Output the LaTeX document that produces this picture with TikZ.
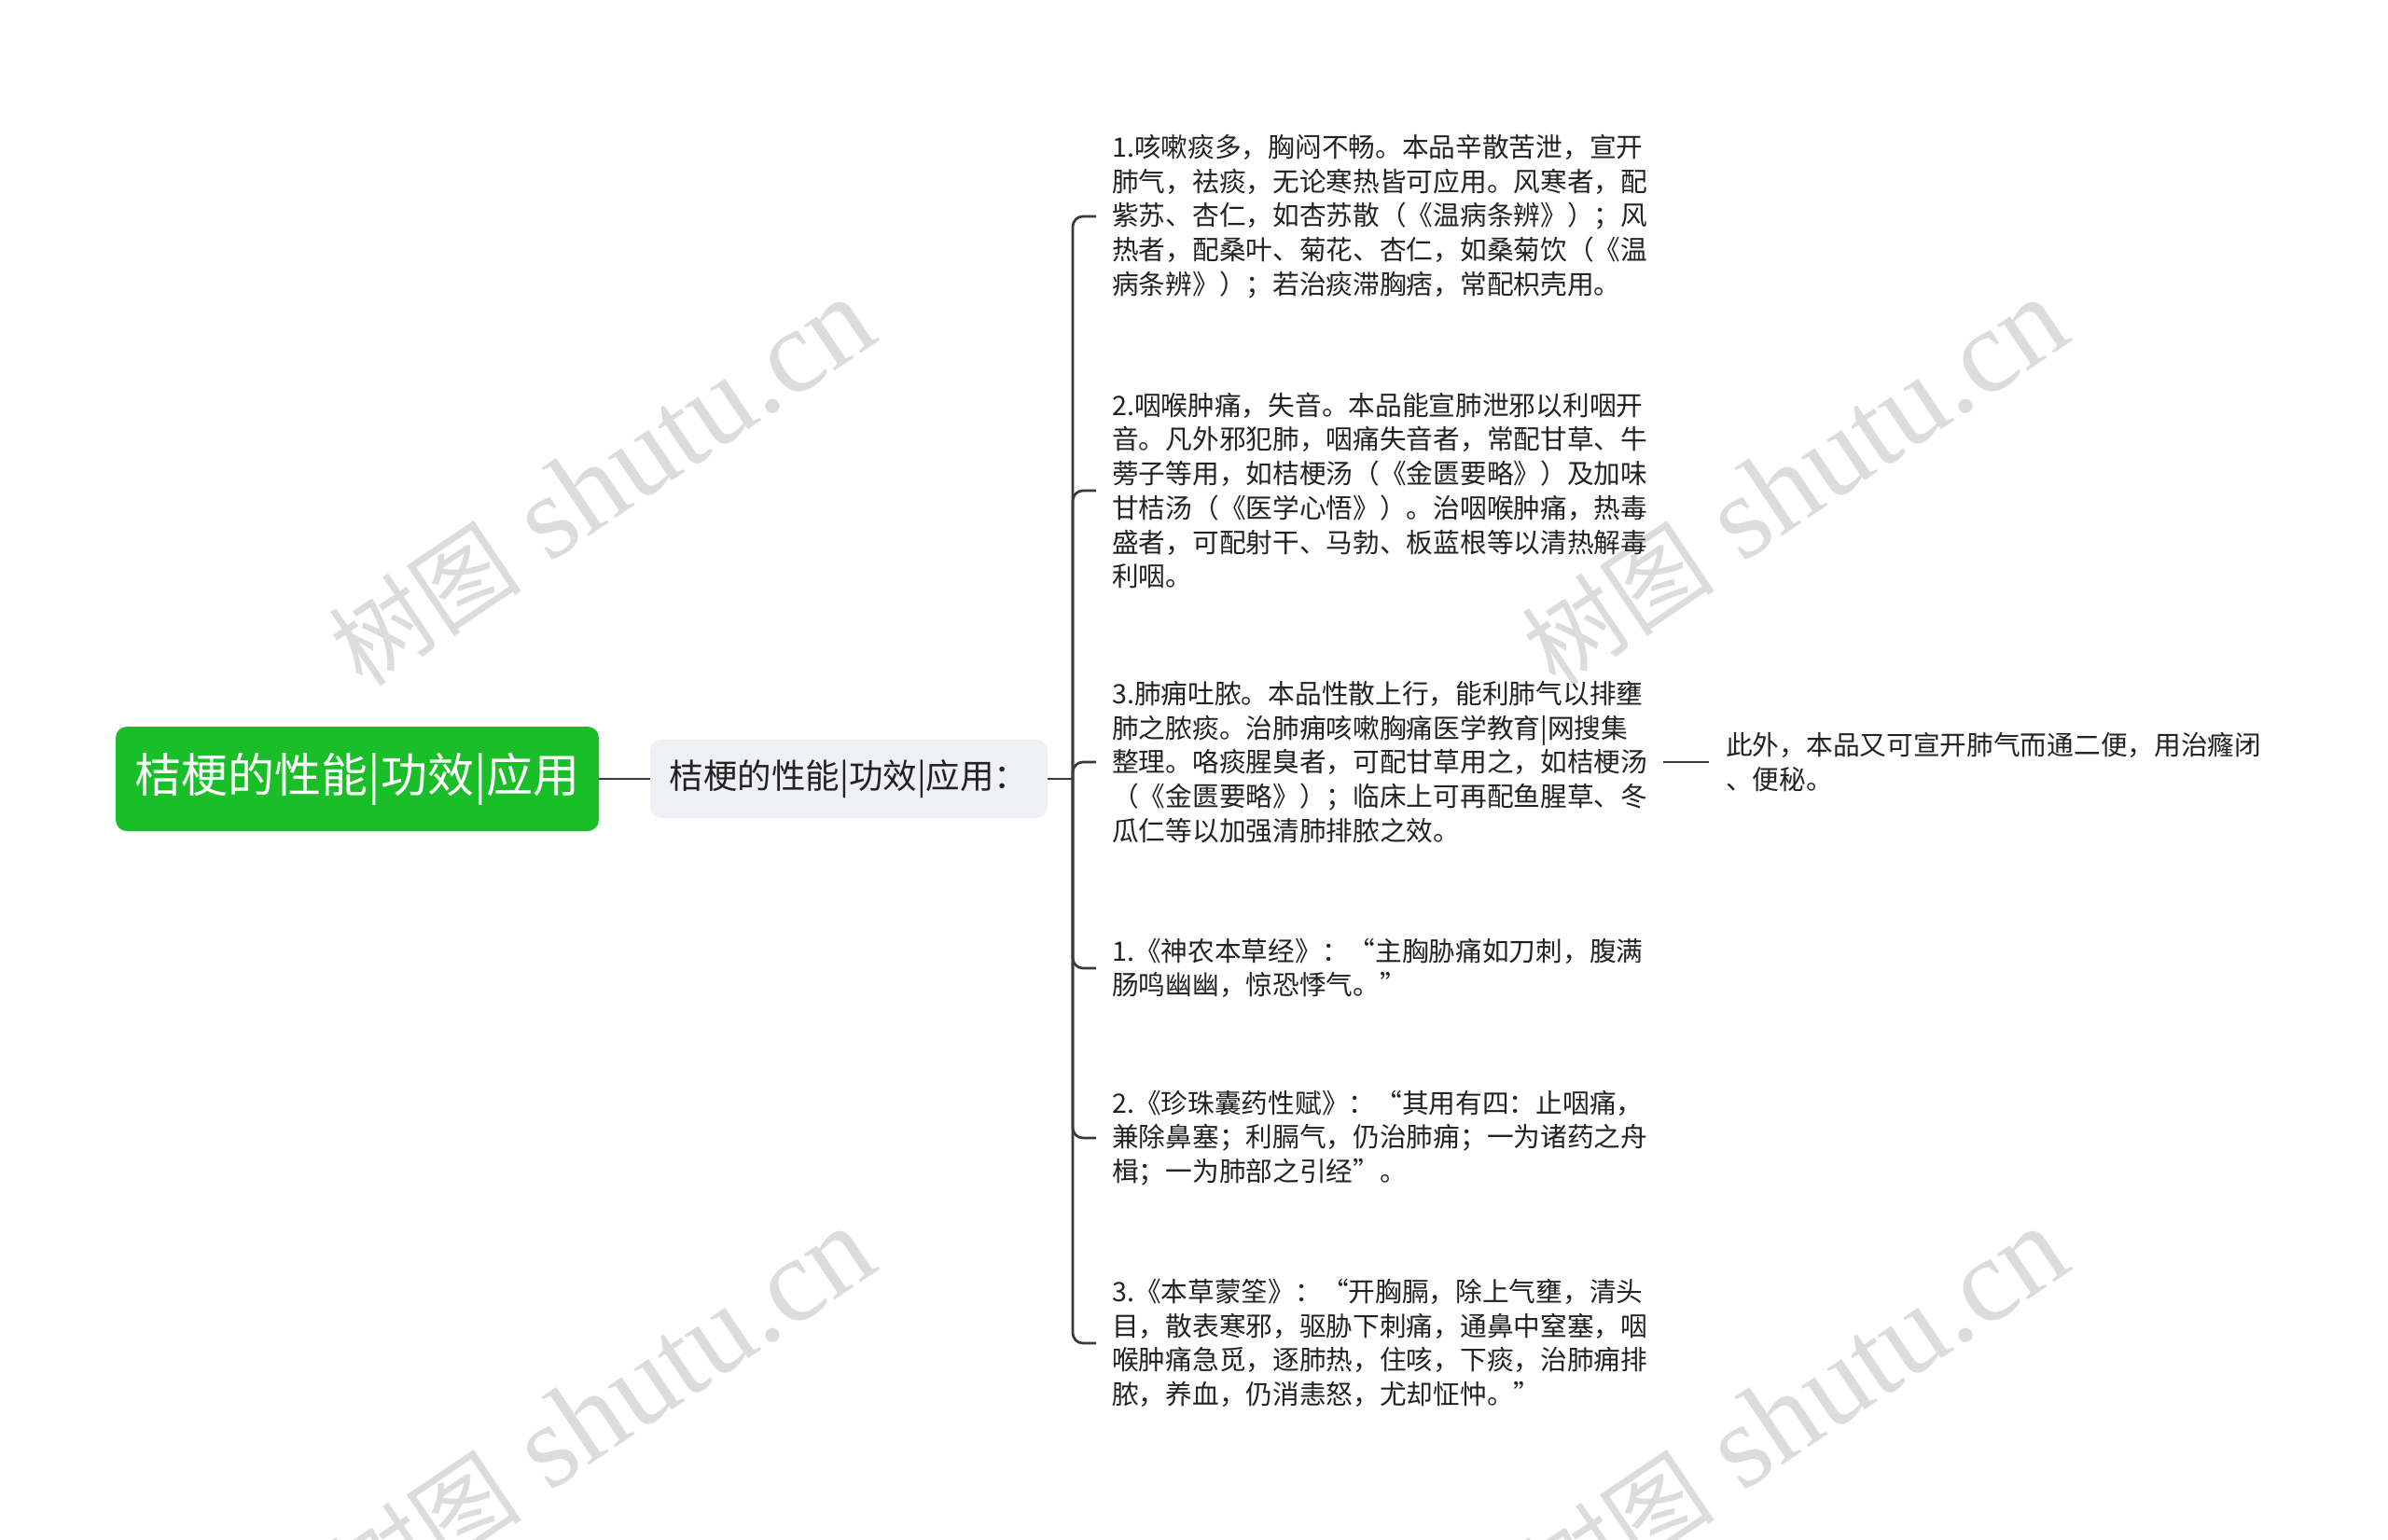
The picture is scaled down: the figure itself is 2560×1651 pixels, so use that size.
\documentclass[tikz,border=0pt]{standalone}
\usepackage{fontspec}
\newfontfamily\cjk{Noto Sans CJK SC}
\newfontfamily\wmserif{Liberation Serif}
\definecolor{rootgreen}{RGB}{26,190,40}
\definecolor{subfill}{RGB}{238,240,243}
\definecolor{linecol}{RGB}{58,58,58}
\definecolor{txtcol}{RGB}{34,34,34}
\definecolor{wmcol}{RGB}{220,220,220}
\newcommand{\wmtext}{{\cjk\fontsize{104}{110}\selectfont 树图}\hspace{32pt}{\wmserif\fontsize{128}{134}\selectfont shutu.cn}}
\begin{document}
\begin{tikzpicture}[x=1pt,y=-1pt,
  rootbox/.style={fill=rootgreen,rounded corners=12pt,minimum width=518pt,minimum height=112pt,
     inner sep=0pt,text=white,font={\cjk\fontsize{50}{58}\selectfont}},
  subbox/.style={fill=subfill,rounded corners=12pt,minimum width=426pt,minimum height=84pt,
     inner sep=0pt,text=txtcol,font={\cjk\fontsize{36.5}{42}\selectfont}},
  leaf/.style={anchor=west,align=left,inner xsep=17pt,inner ysep=4pt,text=txtcol,
     font={\cjk\fontsize{28.7}{36.7}\selectfont}},
  conn/.style={draw=linecol,line width=2.7pt},
  branch/.style={draw=linecol,line width=2.7pt,rounded corners=11pt},
  wm/.style={text=wmcol,rotate=34,inner sep=0pt}
]
\useasboundingbox (0,0) rectangle (2560,1651);
\fill[white] (0,0) rectangle (2560,1651);

% watermarks
\node[wm] (wm1) at (645,518) {\wmtext};
\node[wm] (wm2) at (1924,518) {\wmtext};
\node[wm] (wm3) at (645,1514) {\wmtext};
\node[wm] (wm4) at (1924,1514) {\wmtext};

\node[rootbox] (root) at (383,835) {桔梗的性能|功效|应用};
\node[subbox] (sub) at (910,835) {桔梗的性能|功效|应用：};
\coordinate (hub) at (1150,835);

\node[leaf] (c1) at (1175,232) {1.咳嗽痰多，胸闷不畅。本品辛散苦泄，宣开\\肺气，祛痰，无论寒热皆可应用。风寒者，配\\紫苏、杏仁，如杏苏散（《温病条辨》）；风\\热者，配桑叶、菊花、杏仁，如桑菊饮（《温\\病条辨》）；若治痰滞胸痞，常配枳壳用。};
\node[leaf] (c2) at (1175,526) {2.咽喉肿痛，失音。本品能宣肺泄邪以利咽开\\音。凡外邪犯肺，咽痛失音者，常配甘草、牛\\蒡子等用，如桔梗汤（《金匮要略》）及加味\\甘桔汤（《医学心悟》）。治咽喉肿痛，热毒\\盛者，可配射干、马勃、板蓝根等以清热解毒\\利咽。};
\node[leaf] (c3) at (1175,817) {3.肺痈吐脓。本品性散上行，能利肺气以排壅\\肺之脓痰。治肺痈咳嗽胸痛医学教育|网搜集\\整理。咯痰腥臭者，可配甘草用之，如桔梗汤\\（《金匮要略》）；临床上可再配鱼腥草、冬\\瓜仁等以加强清肺排脓之效。};
\node[leaf] (c4) at (1175,1038) {1.《神农本草经》：“主胸胁痛如刀刺，腹满\\肠鸣幽幽，惊恐悸气。”};
\node[leaf] (c5) at (1175,1220) {2.《珍珠囊药性赋》：“其用有四：止咽痛，\\兼除鼻塞；利膈气，仍治肺痈；一为诸药之舟\\楫；一为肺部之引经”。};
\node[leaf] (c6) at (1175,1440) {3.《本草蒙筌》：“开胸膈，除上气壅，清头\\目，散表寒邪，驱胁下刺痛，通鼻中窒塞，咽\\喉肿痛急觅，逐肺热，住咳，下痰，治肺痈排\\脓，养血，仍消恚怒，尤却怔忡。”};
\node[leaf,inner xsep=18pt] (r1) at (1832,817) {此外，本品又可宣开肺气而通二便，用治癃闭\\、便秘。};

\draw[conn] (root.east) -- (sub.west);
\draw[conn] (sub.east) -- (hub);
\foreach \c in {c1,c2,c3,c4,c5,c6}{
  \draw[branch] (hub) |- (\c.west);
}
\draw[conn] (c3.east) -- (r1.west);
\end{tikzpicture}
\end{document}
